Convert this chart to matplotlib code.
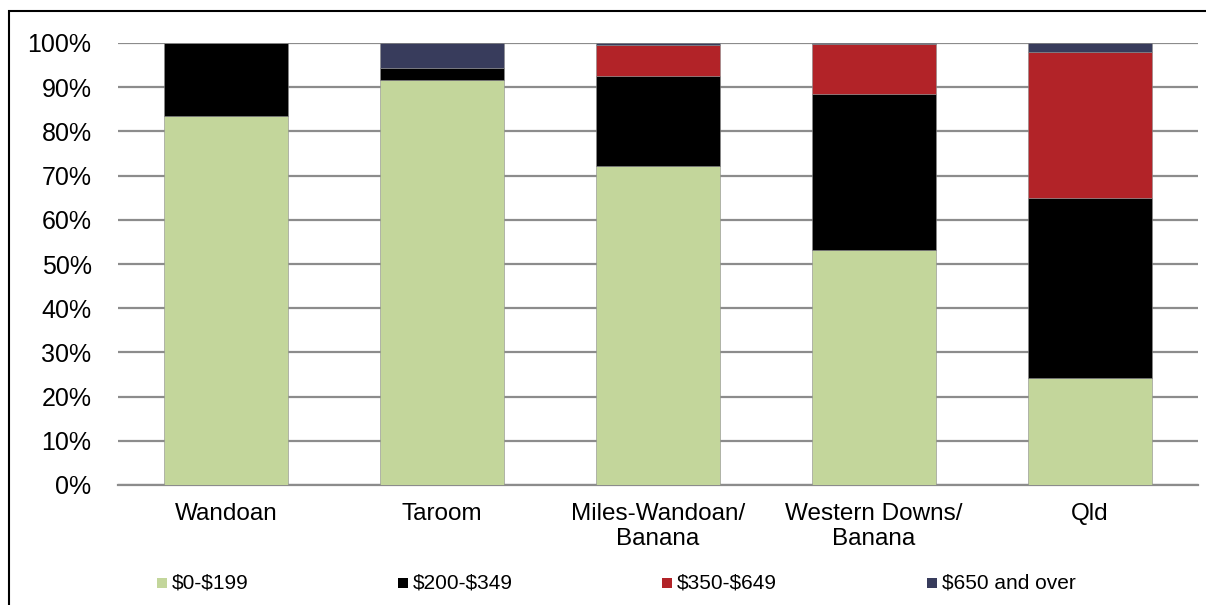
import matplotlib
matplotlib.use("Agg")
import matplotlib.pyplot as plt
from matplotlib.patches import Rectangle
import numpy as np

plt.rcParams['font.family'] = ['Liberation Sans', 'DejaVu Sans']

categories = ["Wandoan", "Taroom", "Miles-Wandoan/\nBanana", "Western Downs/\nBanana", "Qld"]
series_names = [r"\$0-\$199", r"\$200-\$349", r"\$350-\$649", r"\$650 and over"]
rent_0_199 = [83.5, 91.6, 72.2, 53.2, 24.1]
rent_200_349 = [16.5, 2.8, 20.4, 35.2, 40.9]
rent_350_649 = [0.0, 0.0, 6.9, 11.4, 33.0]
rent_650_over = [0.0, 5.6, 0.5, 0.2, 2.0]
yticks = [0, 10, 20, 30, 40, 50, 60, 70, 80, 90, 100]

colors = ["#C3D69B", "#000000", "#B22328", "#383C5C"]

W, H = 1206, 605
fig = plt.figure(figsize=(W / 100, H / 100), dpi=100)
ax = fig.add_axes([118 / W, 1 - 485 / H, (1198 - 118) / W, (485 - 43) / H])

x = np.arange(len(categories))
bottom = np.zeros(len(categories))
for vals, col in zip([rent_0_199, rent_200_349, rent_350_649, rent_650_over], colors):
    vals = np.array(vals)
    ax.bar(x, vals, bottom=bottom, width=0.57, color=col, edgecolor="#8a8a8a",
           linewidth=0.4, zorder=3)
    bottom += vals

ax.set_xlim(-0.5, len(categories) - 0.5)
ax.set_ylim(0, 100)
ax.set_yticks(yticks)
ax.set_yticklabels([f"{v}%" for v in yticks], fontsize=18)
ax.set_xticks(x)
ax.set_xticklabels(categories, fontsize=17.5, linespacing=1.2)
ax.tick_params(axis="x", length=0, pad=13)
ax.tick_params(axis="y", length=0, pad=19)
ax.yaxis.grid(True, color="#8c8c8c", linewidth=1.6, zorder=0)
for side in ["left", "right", "top"]:
    ax.spines[side].set_visible(False)
ax.spines["bottom"].set_color("#8c8c8c")
ax.spines["bottom"].set_linewidth(1.6)

# legend: colour swatch followed by its label
legend_x = [157, 398, 662, 927]
legend_y = 583
for lx, name, col in zip(legend_x, series_names, colors):
    fig.patches.append(Rectangle((lx / W, 1 - (legend_y + 5) / H), 10 / W, 10 / H,
                                 transform=fig.transFigure, facecolor=col, edgecolor="none"))
    fig.text((lx + 15) / W, 1 - legend_y / H, name, fontsize=15, va="center", ha="left")

# outer frame around the chart
fig.patches.append(Rectangle((9 / W, -0.1), 1.2, 1 - 11 / H + 0.1, transform=fig.transFigure,
                             fill=False, edgecolor="black", linewidth=1.5))

fig.savefig("out.png", dpi=100)
